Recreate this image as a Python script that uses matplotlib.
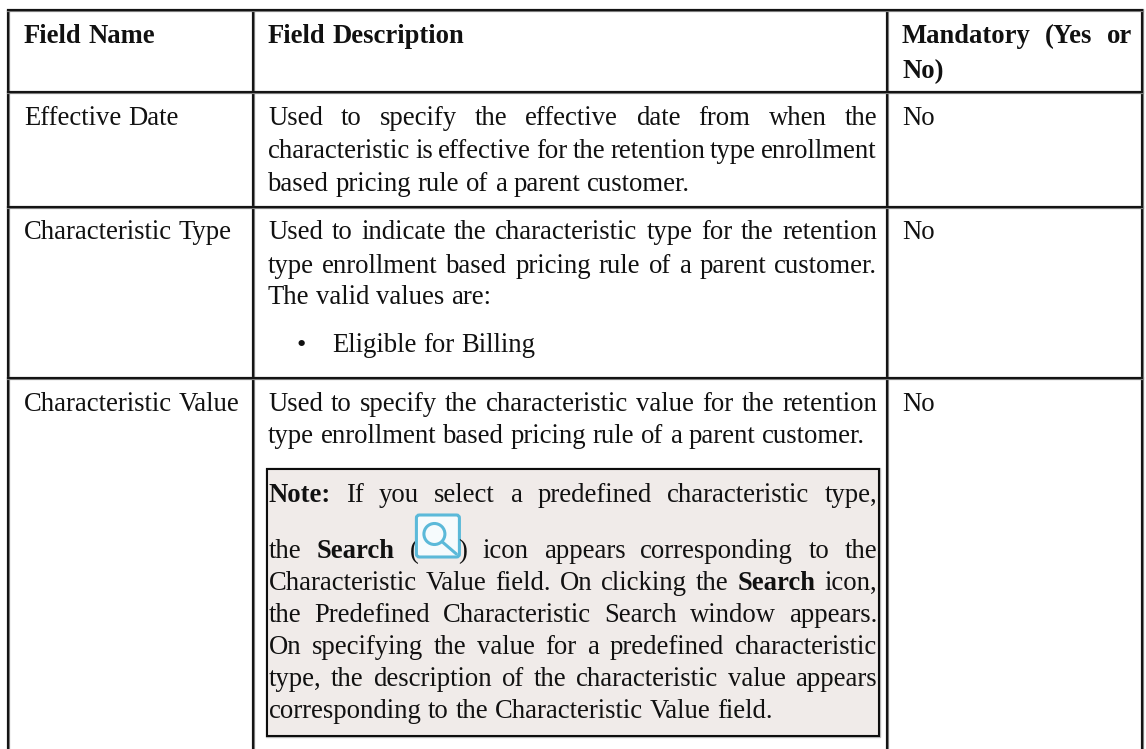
import matplotlib
matplotlib.use("Agg")

import matplotlib.pyplot as plt
from matplotlib.patches import Circle, FancyBboxPatch, Rectangle

plt.rcParams["text.hinting"] = "no_autohint"
plt.rcParams["text.hinting_factor"] = 8

# table content, "*" marks a bold word, "{icon}" the inline search icon
header_lines = {
    "name": ["*Field *Name"],
    "desc": ["*Field *Description"],
    "mand": ["*Mandatory *(Yes *or", "*No)"],
}
field_names = ["Effective Date", "Characteristic Type", "Characteristic Value"]
mandatory = ["No", "No", "No"]
effective_desc = [
    "Used to specify the effective date from when the",
    "characteristic is effective for the retention type enrollment",
    "based pricing rule of a parent customer.",
]
type_desc = [
    "Used to indicate the characteristic type for the retention",
    "type enrollment based pricing rule of a parent customer.",
    "The valid values are:",
]
type_bullet = "Eligible for Billing"
value_desc = [
    "Used to specify the characteristic value for the retention",
    "type enrollment based pricing rule of a parent customer.",
]
note_lines = [
    "*Note: If you select a predefined characteristic type,",
    "the *Search {icon} icon appears corresponding to the",
    "Characteristic Value field. On clicking the *Search icon,",
    "the Predefined Characteristic Search window appears.",
    "On specifying the value for a predefined characteristic",
    "type, the description of the characteristic value appears",
    "corresponding to the Characteristic Value field.",
]

# layout in image pixels
W, H = 1146, 749
FONT_PX = 26.6
BORDER = "#141414"
COL_X = [8, 253, 887, 1142]
ROW_Y = [10, 92, 207, 378]
COL1_TEXT = 24
COL2_TEXT, COL2_END = 268, 877
COL3_TEXT, COL3_END = 902, 1132
NOTE_BOX = (267, 469, 879, 736)
ICON_W = 58
ICON_BLUE = "#5bb9d9"

fig = plt.figure(figsize=(W / 100, H / 100), dpi=100, facecolor="white")
ax = fig.add_axes([0, 0, 1, 1])
ax.set_xlim(0, W)
ax.set_ylim(H, 0)
ax.axis("off")
renderer = fig.canvas.get_renderer()


def put(x, y, word, bold=False):
    return ax.text(
        x,
        y,
        word,
        family="Liberation Serif",
        fontsize=FONT_PX * 0.72,
        fontweight="bold" if bold else "normal",
        color="#111111",
        va="baseline",
        ha="left",
    )


def word_width(word, bold):
    t = put(0, 0, word, bold)
    width = t.get_window_extent(renderer).width
    t.remove()
    return width


def draw_icon(x, y):
    left, top = x + 7, y - 43
    ax.add_patch(FancyBboxPatch(
        (left, top), 43, 42,
        boxstyle="round,pad=0,rounding_size=3",
        facecolor="#f6fbfd", edgecolor=ICON_BLUE, lw=2.2, zorder=3,
    ))
    ax.add_patch(Circle((left + 18, top + 19), 10.5, facecolor="none",
                        edgecolor=ICON_BLUE, lw=2.2, zorder=4))
    ax.plot([left + 26, left + 40], [top + 27, top + 39], color=ICON_BLUE,
            lw=2.2, zorder=4, solid_capstyle="round")


def draw_line(line, x0, x1, y, justify=True):
    words = line.split()
    items = []
    for word in words:
        bold = word.startswith("*")
        text = word.lstrip("*")
        width = ICON_W if text == "{icon}" else word_width(text, bold)
        items.append((text, bold, width))
    total = sum(item[2] for item in items)
    natural = 0.25 * FONT_PX
    gap = natural
    if justify and len(items) > 1:
        gap = (x1 - x0 - total) / (len(items) - 1)
    x = x0
    for text, bold, width in items:
        if text == "{icon}":
            put(x, y, "(")
            draw_icon(x, y)
            put(x + ICON_W - 9, y, ")")
        else:
            put(x, y, text, bold)
        x += width + gap


# note box goes under the table lines and text
x0, y0, x1, y1 = NOTE_BOX
ax.add_patch(Rectangle((x0 - 1, y0 - 1), x1 - x0 + 2, y1 - y0 + 2,
                       facecolor="none", edgecolor="#bdbdbd", lw=1.0, zorder=1))
ax.add_patch(Rectangle((x0, y0), x1 - x0, y1 - y0, facecolor="#f0ebe9",
                       edgecolor="#0d0d0d", lw=1.5, zorder=1))

# table rules with a soft grey edge, no bottom rule as the table runs off the page
for x in COL_X:
    ax.plot([x, x], [ROW_Y[0], H], color="#808080", lw=2.3,
            solid_capstyle="butt", zorder=2)
    ax.plot([x, x], [ROW_Y[0], H], color=BORDER, lw=1.5,
            solid_capstyle="butt", zorder=2)
for y in ROW_Y:
    ax.plot([COL_X[0], COL_X[-1]], [y, y], color="#808080", lw=2.3,
            solid_capstyle="projecting", zorder=2)
    ax.plot([COL_X[0], COL_X[-1]], [y, y], color=BORDER, lw=1.5,
            solid_capstyle="projecting", zorder=2)

# header
draw_line(header_lines["name"][0], COL1_TEXT, 0, 43, justify=False)
draw_line(header_lines["desc"][0], COL2_TEXT, 0, 43, justify=False)
draw_line(header_lines["mand"][0], COL3_TEXT, COL3_END, 43)
draw_line(header_lines["mand"][1], COL3_TEXT, 0, 78, justify=False)

# first and third columns
name_baselines = [125, 239, 411]
for name, flag, base in zip(field_names, mandatory, name_baselines):
    draw_line(name, COL1_TEXT, 0, base, justify=False)
    draw_line(flag, COL3_TEXT, 0, base, justify=False)

# descriptions
for line, base, just in zip(effective_desc, [125, 158, 191], [True, True, False]):
    draw_line(line, COL2_TEXT, COL2_END, base, justify=just)
for line, base, just in zip(type_desc, [239, 273, 304], [True, True, False]):
    draw_line(line, COL2_TEXT, COL2_END, base, justify=just)
put(297, 352, "\u2022")
draw_line(type_bullet, 332.5, 0, 352, justify=False)
for line, base, just in zip(value_desc, [411, 443], [True, False]):
    draw_line(line, COL2_TEXT, COL2_END, base, justify=just)

note_baselines = [502, 558, 590, 622, 654, 686, 718]
for i, (line, base) in enumerate(zip(note_lines, note_baselines)):
    draw_line(line, 268.5, 877, base, justify=i < len(note_lines) - 1)

fig.savefig("out.png", dpi=100)
plt.close(fig)
